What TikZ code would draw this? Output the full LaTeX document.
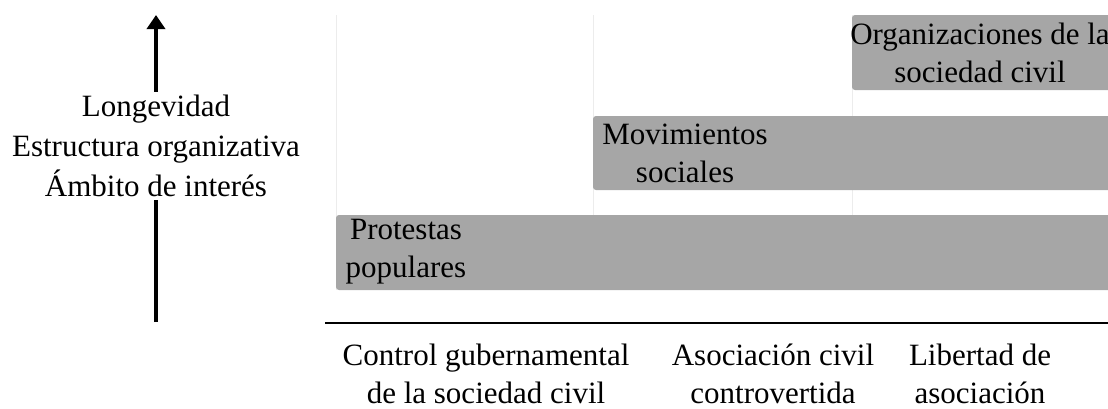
\documentclass[tikz,border=0pt]{standalone}
\usepackage{fontspec}
\setmainfont{Liberation Serif}
\usetikzlibrary{arrows.meta}
\definecolor{bargray}{RGB}{166,166,166}
\definecolor{gridgray}{RGB}{236,236,236}
\begin{document}
\begin{tikzpicture}[x=1pt,y=-1pt,font=\fontsize{31}{38}\selectfont,
bar/.style={fill=bargray,rounded corners=3pt},
lbl/.style={align=center,inner sep=0pt},
gridline/.style={draw=gridgray,line width=1pt},
up/.style={-{Triangle[width=18pt,length=14pt]},line width=4pt},
axis/.style={line width=2.5pt}]

\path[use as bounding box](0,0)rectangle(1108,408);
\foreach \xx in {336,593,852}{\draw[gridline](\xx,15)--(\xx,290);}
\begin{scope}
\clip(0,0)rectangle(1108,408);
\fill[bar](336,215)rectangle(1115,290);
\fill[bar](593,116)rectangle(1115,190);
\fill[bar](852,15)rectangle(1115,90);
\end{scope}
\node[lbl](prot)at(406,252){Protestas\\populares};
\node[lbl](mov)at(685,153){Movimientos\\sociales};
\node[lbl](org)at(980,53){Organizaciones de la\\sociedad civil};

\node[lbl,font=\fontsize{31}{40}\selectfont,inner ysep=3pt](dims)at(156,146){Longevidad\\Estructura organizativa\\Ámbito de interés};
\coordinate(lo)at(156,322);\coordinate(hi)at(156,15);
\draw[line width=4pt](lo)--(dims);
\draw[up](dims)--(hi);

\coordinate(ax0)at(325,323);\coordinate(ax1)at(1108,323);
\draw[axis](ax0)--(ax1);
\node[lbl](gov)at(486,374){Control gubernamental\\de la sociedad civil};
\node[lbl](disp)at(773,374){Asociación civil\\controvertida};
\node[lbl](free)at(980,374){Libertad de\\asociación};
\end{tikzpicture}
\end{document}
